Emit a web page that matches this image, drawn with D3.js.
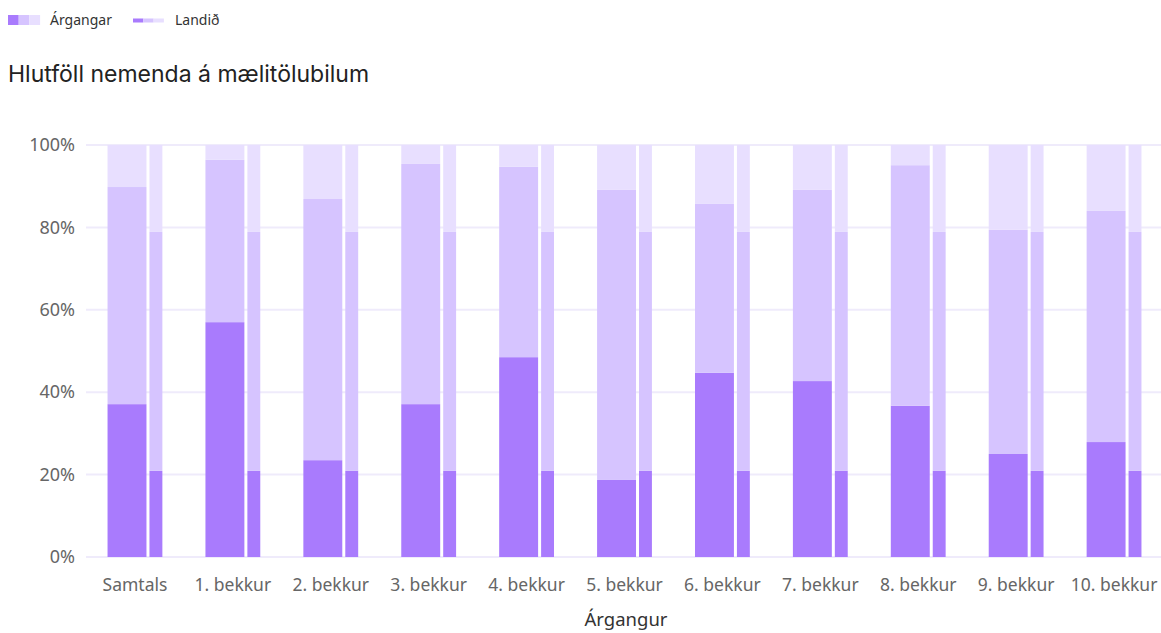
<!DOCTYPE html>
<html>
<head>
<meta charset="utf-8">
<script src="https://cdn.jsdelivr.net/npm/d3@7"></script>
<style>
  body { margin: 0; background: #fff; }
  svg { display: block; font-family: "Noto Sans", sans-serif; }
</style>
</head>
<body>
<svg class="chart" width="1161" height="633"></svg>
<script>
var categories = ["Samtals", "1. bekkur", "2. bekkur", "3. bekkur", "4. bekkur", "5. bekkur",
                  "6. bekkur", "7. bekkur", "8. bekkur", "9. bekkur", "10. bekkur"];
// cumulative tops of the dark and medium parts, %
var argDark = [37.1, 57.0, 23.5, 37.1, 48.5, 18.7, 44.7, 42.7, 36.7, 25.0, 27.9];
var argMid  = [89.8, 96.4, 86.9, 95.4, 94.7, 89.1, 85.7, 89.1, 95.1, 79.4, 84.0];
var landDark = 20.9;
var landMid = 78.9;
var yTicks = [0, 20, 40, 60, 80, 100];

var colors = ["#a97bfd", "#d6c4ff", "#e8dfff"];

var svg = d3.select(".chart");

var margin = {left: 86, right: -2, top: 145, bottom: 76};
var width = +svg.attr("width"), height = +svg.attr("height");

var x = d3.scaleBand()
    .domain(categories)
    .range([margin.left, width - margin.right])
    .paddingInner(0.44)
    .paddingOuter(0.22);

var y = d3.scaleLinear().domain([0, 100]).range([557, 145]);

// legend
var leg = svg.append("g");
colors.forEach(function(c, i) {
    leg.append("rect").attr("x", 8 + i * 10.7).attr("y", 15).attr("width", 10.7).attr("height", 10).attr("fill", c);
    leg.append("rect").attr("x", 133 + i * 10.3).attr("y", 18.5).attr("width", 10.3).attr("height", 4).attr("fill", c);
});
leg.append("text").attr("x", 50).attr("y", 25).attr("font-size", 14).attr("fill", "#333").text("Árgangar");
leg.append("text").attr("x", 175).attr("y", 25).attr("font-size", 14).attr("fill", "#333").text("Landið");

svg.append("text")
    .attr("x", 8).attr("y", 82)
    .attr("font-size", 23)
    .attr("font-family", "Inter, sans-serif")
    .attr("fill", "#222")
    .text("Hlutföll nemenda á mælitölubilum");

// grid
svg.append("g").selectAll("line")
    .data(yTicks)
    .enter().append("line")
    .attr("x1", margin.left).attr("x2", width)
    .attr("y1", function(d) { return y(d); })
    .attr("y2", function(d) { return y(d); })
    .attr("stroke", "#efebfb").attr("stroke-width", 2);

var yAxis = svg.append("g")
    .attr("transform", "translate(" + margin.left + ",0)")
    .call(d3.axisLeft(y).tickValues(yTicks).tickFormat(function(d) { return d + "%"; }).tickSize(0).tickPadding(11));
yAxis.select(".domain").remove();
yAxis.selectAll("text").attr("font-size", 18).attr("fill", "#666").attr("font-family", "Noto Sans, sans-serif");

var mainW = x.bandwidth() * 0.71;
var gap = 3;
var landW = x.bandwidth() - mainW - gap;

function segs(dark, mid) {
    return [[0, dark], [dark, mid], [mid, 100]];
}

var groups = svg.append("g").selectAll("g")
    .data(categories)
    .enter().append("g");

groups.each(function(cat, i) {
    var g = d3.select(this);
    var x0 = x(cat);
    segs(argDark[i], argMid[i]).forEach(function(s, k) {
        g.append("rect")
            .attr("x", x0).attr("width", mainW)
            .attr("y", y(s[1])).attr("height", y(s[0]) - y(s[1]))
            .attr("fill", colors[k]);
    });
    segs(landDark, landMid).forEach(function(s, k) {
        g.append("rect")
            .attr("x", x0 + mainW + gap).attr("width", landW)
            .attr("y", y(s[1])).attr("height", y(s[0]) - y(s[1]))
            .attr("fill", colors[k]);
    });
});

var xAxis = svg.append("g")
    .attr("transform", "translate(0,557)")
    .call(d3.axisBottom(x).tickSize(0).tickPadding(22));
xAxis.select(".domain").remove();
xAxis.selectAll("text").attr("font-size", 17.5).attr("fill", "#666").attr("font-family", "Noto Sans, sans-serif");

svg.append("text")
    .attr("x", 626).attr("y", 626)
    .attr("text-anchor", "middle")
    .attr("font-size", 18.5)
    .attr("fill", "#333")
    .text("Árgangur");
</script>
</body>
</html>
